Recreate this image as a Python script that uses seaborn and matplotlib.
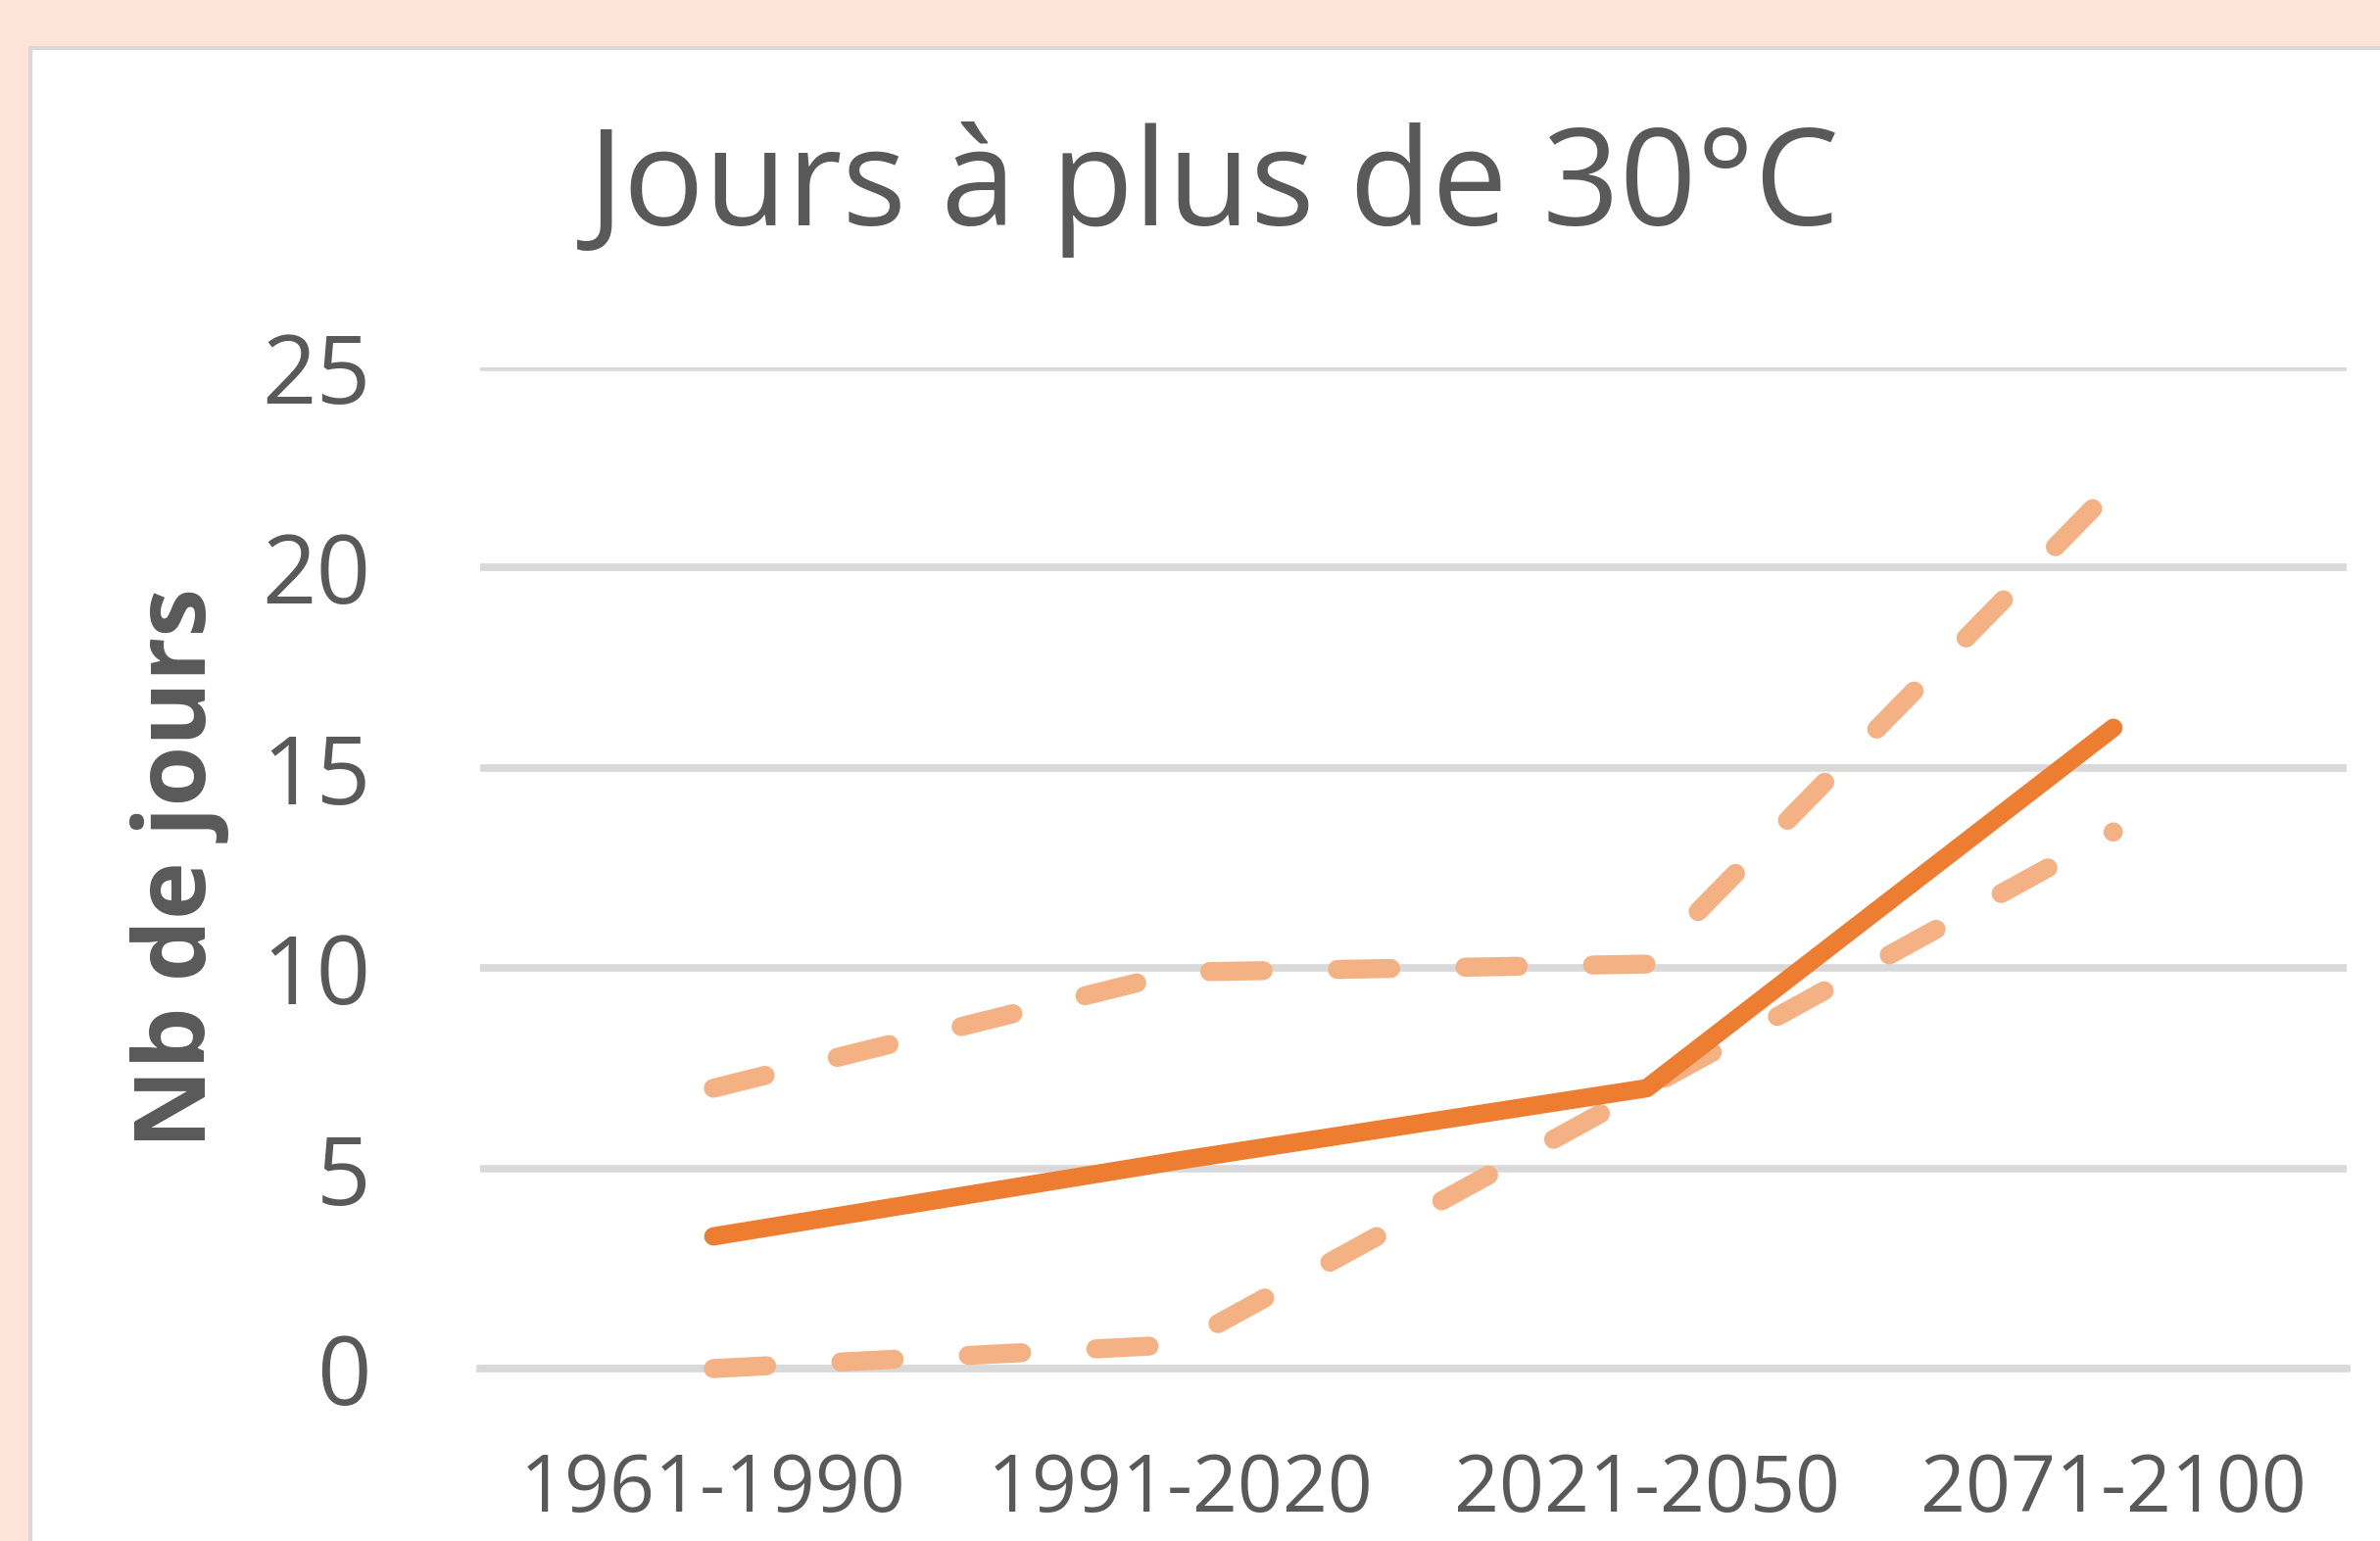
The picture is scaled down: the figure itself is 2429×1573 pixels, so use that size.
import numpy as np
import pandas as pd
import matplotlib
matplotlib.use("Agg")
import matplotlib.pyplot as plt
import seaborn as sns
from matplotlib.patches import Rectangle

periods = ["1961-1990", "1991-2020", "2021-2050", "2071-2100"]
mediane = [3.3, 5.2, 7.0, 16.0]
haut = [7.0, 9.9, 10.1, 22.0]
bas = [0.0, 0.6, 7.0, 13.4]

TEXT = "#595959"
GRID = "#D9D9D9"

sns.set_theme(style="white")
plt.rcParams["font.family"] = ["Open Sans", "DejaVu Sans"]

fig = plt.figure(figsize=(24.29, 15.73), dpi=100)
fig.patch.set_facecolor("#FDE4D8")
fig.patches.append(Rectangle((31 / 2429, -0.01), 1.0, 0.979,
                             transform=fig.transFigure, facecolor="white",
                             edgecolor=GRID, linewidth=3, zorder=-10))

ax = fig.add_axes([0.2017, 0.1119, 0.986 - 0.2017, 0.7616 - 0.1119])
ax.set_facecolor("none")

pos = np.arange(len(periods))
df = pd.DataFrame({"pos": pos, "mediane": mediane, "haut": haut, "bas": bas})

# scenarios haut / bas en tirets
for col in ["haut", "bas"]:
    sns.lineplot(data=df, x="pos", y=col, ax=ax, color="#F4B183",
                 clip_on=False, zorder=3)
    ln = ax.lines[-1]
    ln.set_linewidth(14)
    ln.set_dashes((2.8, 3.9))
    ln.set_dash_capstyle("round")

# mediane
sns.lineplot(data=df, x="pos", y="mediane", ax=ax, color="#ED7D31",
             clip_on=False, zorder=4)
ln = ax.lines[-1]
ln.set_linewidth(13.5)
ln.set_solid_capstyle("round")

ax.set_xlim(-0.5, 3.5)
ax.set_ylim(0, 25)
ax.set_yticks([0, 5, 10, 15, 20, 25])
ax.yaxis.grid(True, color=GRID, linewidth=5.5)
ax.set_axisbelow(True)
for s in ["top", "right", "left"]:
    ax.spines[s].set_visible(False)
ax.spines["bottom"].set_color(GRID)
ax.spines["bottom"].set_linewidth(5.5)

ax.set_xticks(pos)
ax.set_xticklabels(periods)
ax.set_xticks(np.arange(-0.5, 4.0, 1.0), minor=True)
ax.tick_params(axis="x", which="major", length=0, pad=61, labelsize=58, labelcolor=TEXT)
ax.tick_params(axis="x", which="minor", direction="in", length=24, width=3.5, color=GRID)
ax.tick_params(axis="y", length=0, pad=80, labelsize=70, labelcolor=TEXT)
ax.set_xlabel("")
ax.set_ylabel("")

fig.text(0.51, 0.854, "Jours à plus de 30°C", ha="center", va="baseline",
         fontsize=99, color=TEXT)
fig.text(0.0755, 0.437, "Nb de jours", ha="center", va="center", rotation=90,
         fontsize=72, fontweight="bold", color=TEXT)

fig.savefig("out.png", dpi=100, facecolor=fig.get_facecolor())
